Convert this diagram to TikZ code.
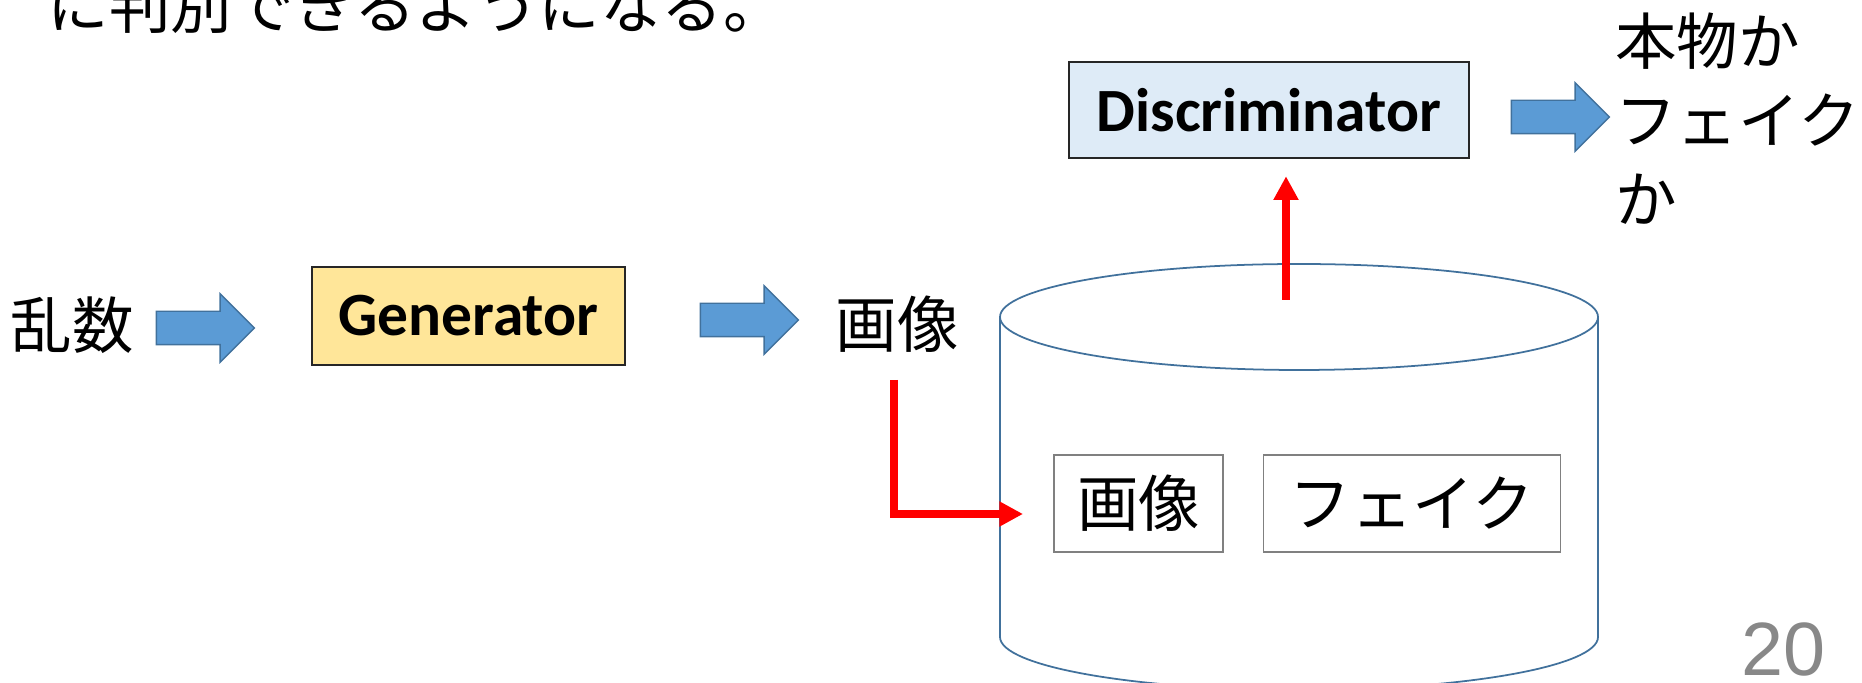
\documentclass[tikz,border=0pt]{standalone}
\usepackage{fontspec}
\newfontfamily\jpfont{Noto Sans CJK JP}
\newfontfamily\boxfont{Carlito}
\newfontfamily\numfont{Liberation Sans}
\usetikzlibrary{
    arrows.meta,
    positioning,
    shapes.arrows
}

\definecolor{genfill}{HTML}{FFE699}
\definecolor{discfill}{HTML}{DEEBF7}
\definecolor{flowfill}{HTML}{5B9BD5}
\definecolor{flowedge}{HTML}{41719C}
\definecolor{pagenum}{HTML}{888888}

\begin{document}
\begin{tikzpicture}[
    font=\jpfont\fontsize{35}{45}\selectfont,
    net/.style={
        rectangle,
        draw=black!85,
        line width=0.8pt,
        align=center,
        font=\boxfont\bfseries\fontsize{35}{42}\selectfont
    },
    jptext/.style={
        inner sep=0pt,
        align=left
    },
    slot/.style={
        rectangle,
        draw=black!50,
        line width=0.8pt,
        minimum height=1.94cm,
        inner sep=0pt
    },
    flow/.style={
        single arrow,
        draw=flowedge,
        fill=flowfill,
        line width=0.8pt,
        inner sep=0pt,
        text height=0.64cm,
        minimum height=1.96cm,
        single arrow head extend=0.35cm
    },
    dbline/.style={draw=flowedge, line width=1pt},
    redarrow/.style={-{Triangle[length=13.5pt,width=13.5pt]}, red, line width=4.2pt}
]
\useasboundingbox (0,0) rectangle (37.24,13.66);

% ===== leftover line of the slide text =====
\node[jptext, anchor=west] (caption) at (0.95,13.56) {に判別できるようになる。};

% ===== generator row =====
\node[jptext] (rand) at (1.44,7.16) {乱数};
\node[flow] (a1) at (3.94,7.10) {};
\node[net, fill=genfill, minimum width=6.26cm, minimum height=1.96cm] (gen) at (9.37,7.34) {Generator};
\node[flow] (a2) at (14.82,7.26) {};
\node[jptext] (img) at (17.94,7.18) {画像};

% ===== database cylinder =====
\draw[dbline] (20,7.32) -- (20,0.92)
    arc[start angle=180, end angle=360, x radius=5.98, y radius=1.06] -- (31.96,7.32);
\draw[dbline] (25.98,7.32) ellipse[x radius=5.98, y radius=1.06];

\node[slot, minimum width=3.38cm] (real) at (22.77,3.59) {画像};
\node[slot, minimum width=5.94cm, right=0.78cm of real] (fake) {フェイク};

% ===== discriminator row =====
\node[net, fill=discfill, minimum width=8cm, minimum height=1.92cm] (disc) at (25.38,11.46) {Discriminator};
\node[flow] (a3) at (31.04,11.32) {};
\node[jptext, anchor=west] (verdict) at (32.3,11.28) {本物か\\フェイク\\か};

% ===== red flows =====
\coordinate (imgtap) at (17.88,6.06);
\coordinate (dbin) at (20.46,3.38);
\coordinate (dbtap) at (25.72,7.66);

\draw[redarrow] (imgtap) |- (dbin);
\draw[redarrow, shorten >=10pt] (dbtap) -- (dbtap |- disc.south);

% page number
\node[font=\numfont\fontsize{43}{50}\selectfont, text=pagenum, inner sep=0pt] (pageno) at (35.66,0.68) {20};

\end{tikzpicture}
\end{document}
